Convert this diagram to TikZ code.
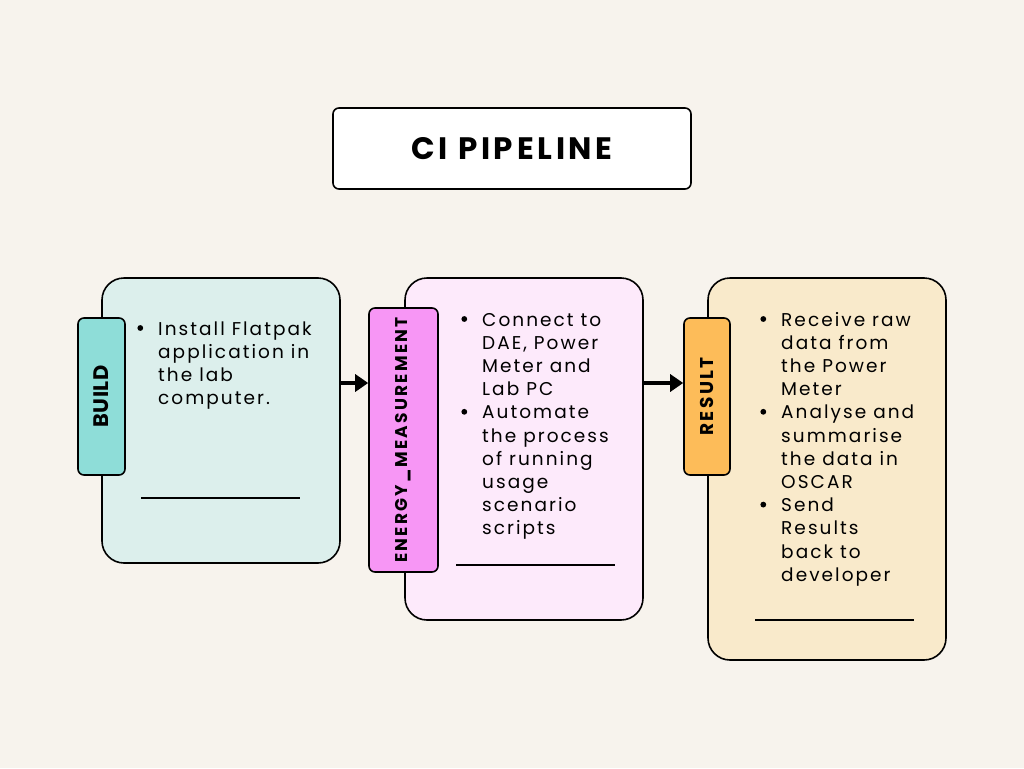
\documentclass[tikz,border=0pt]{standalone}
\usepackage{fontspec}
\setmainfont{Poppins}
\newfontfamily\bodyf{Poppins}[LetterSpace=11]
\newfontfamily\titlef{Poppins Bold}[LetterSpace=12]
\newfontfamily\tabf{Poppins Bold}[LetterSpace=13]
\newfontfamily\tabfb{Poppins Bold}[LetterSpace=3]
\usetikzlibrary{arrows.meta}
\definecolor{bgc}{HTML}{F7F3ED}
\definecolor{cardA}{HTML}{DCEFEC}
\definecolor{tabA}{HTML}{8EDDD8}
\definecolor{cardB}{HTML}{FDEAFB}
\definecolor{tabB}{HTML}{F796F5}
\definecolor{cardC}{HTML}{F9EACB}
\definecolor{tabC}{HTML}{FDBC59}
\newcommand{\bul}{\llap{\tikz[baseline=-7pt]\fill[black] (0pt,0pt) circle (2.9pt);\hspace{15pt}}}
\tikzset{
  card/.style={draw=black, line width=1.6pt, rounded corners=22pt, minimum width=238pt, inner sep=0pt},
  tabbox/.style={draw=black, line width=1.6pt, rounded corners=6pt, inner sep=0pt},
  tablabel/.style={rotate=90, inner sep=0pt},
  body/.style={anchor=base west, inner sep=0pt, font=\bodyf\fontsize{18.5}{23.2}\selectfont},
  sep/.style={line width=1.6pt},
  arr/.style={line width=4pt, -{Triangle[length=13pt,width=17pt]}}
}
\begin{document}
\begin{tikzpicture}[x=1pt,y=-1pt]
\fill[bgc] (0,0) rectangle (1024,768);
\useasboundingbox (0,0) rectangle (1024,768);
% title
\node[draw=black, fill=white, line width=1.6pt, rounded corners=6pt, minimum width=358pt, minimum height=81pt, inner sep=0pt] (title) at (512,148.5) {};
\node[inner sep=0pt, font=\titlef\fontsize{31}{36}\selectfont] (titletext) at (title.center) {CI PIPELINE};
% cards
\node[card, fill=cardA, minimum height=285pt] (card1) at (221,420.5) {};
\node[card, fill=cardB, minimum height=342pt] (card2) at (524,449) {};
\node[card, fill=cardC, minimum height=382pt] (card3) at (827,469) {};
% tabs
\node[tabbox, fill=tabA, minimum width=47pt, minimum height=157pt] (tab1) at (101.5,396.5) {};
\node[tabbox, fill=tabB, minimum width=69pt, minimum height=264pt] (tab2) at (403.5,440) {};
\node[tabbox, fill=tabC, minimum width=46pt, minimum height=157pt] (tab3) at (707,396.5) {};
\node[tablabel, font=\tabfb\fontsize{21}{24}\selectfont] (lab1) at (tab1.center) {BUILD};
\node[tablabel, font=\tabf\fontsize{17}{20}\selectfont] (lab2) at (tab2.center) {ENERGY\_MEASUREMENT};
\node[tablabel, font=\tabf\fontsize{18.5}{22}\selectfont] (lab3) at (tab3.center) {RESULT};
% body texts
\node[body] (text1) at (158,335) {\begin{tabular}[t]{@{}l@{}}
\bul Install Flatpak\\ application in\\ the lab\\ computer.
\end{tabular}};
\node[body] (text2) at (482,326) {\begin{tabular}[t]{@{}l@{}}
\bul Connect to\\ DAE, Power\\ Meter and\\ Lab PC\\
\bul Automate\\ the process\\ of running\\ usage\\ scenario\\ scripts
\end{tabular}};
\node[body] (text3) at (781,326) {\begin{tabular}[t]{@{}l@{}}
\bul Receive raw\\ data from\\ the Power\\ Meter\\
\bul Analyse and\\ summarise\\ the data in\\ OSCAR\\
\bul Send\\ Results\\ back to\\ developer
\end{tabular}};
% separator lines
\coordinate (s1a) at (141,498); \coordinate (s1b) at (300,498);
\coordinate (s2a) at (456,565); \coordinate (s2b) at (615,565);
\coordinate (s3a) at (755,620); \coordinate (s3b) at (914,620);
\draw[sep] (s1a) -- (s1b);
\draw[sep] (s2a) -- (s2b);
\draw[sep] (s3a) -- (s3b);
% arrows
\draw[arr] (card1.east |- 0,383) -- (tab2.west |- 0,383);
\draw[arr] (card2.east |- 0,383) -- (tab3.west |- 0,383);
\end{tikzpicture}
\end{document}
